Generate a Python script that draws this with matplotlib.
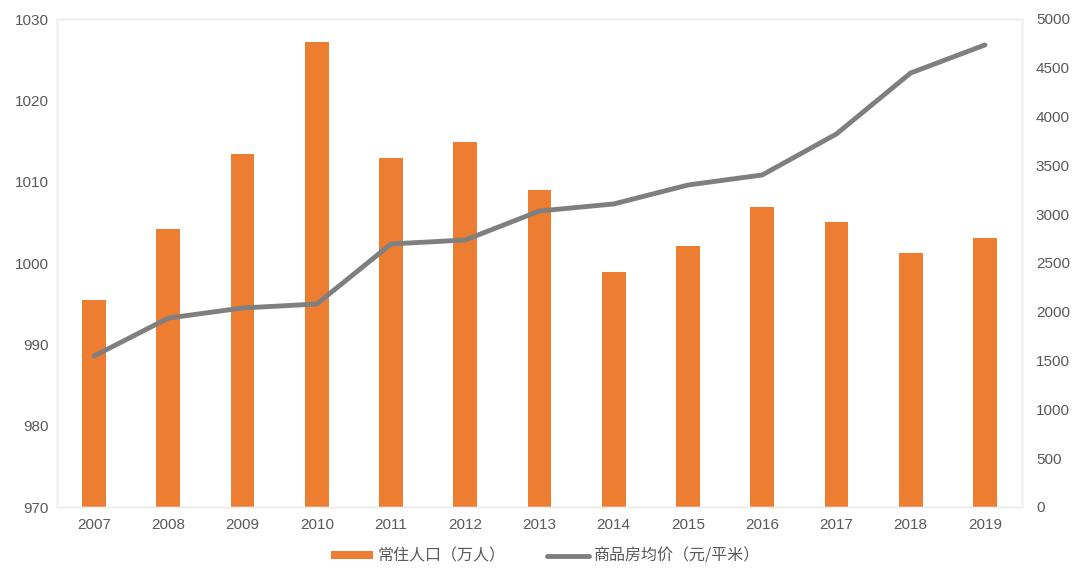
import numpy as np
import matplotlib.pyplot as plt

plt.rcParams['font.family'] = ['Liberation Sans', 'Noto Sans CJK SC', 'DejaVu Sans']

years = ['2007', '2008', '2009', '2010', '2011', '2012', '2013',
         '2014', '2015', '2016', '2017', '2018', '2019']
population = [995.5, 1004.2, 1013.4, 1027.2, 1012.9, 1014.9, 1009.0,
              998.9, 1002.1, 1006.9, 1005.0, 1001.2, 1003.1]
house_price = [1547, 1936, 2039, 2080, 2695, 2736, 3033,
               3105, 3299, 3402, 3822, 4447, 4734]

orange = '#ED7D31'
gray = '#7F7F7F'
tick_color = '#595959'

fig = plt.figure(figsize=(10.8, 5.81), dpi=100)
ax = fig.add_axes([57 / 1080, 1 - 507 / 581, (1022 - 57) / 1080, (507 - 19) / 581])
ax2 = ax.twinx()

x = np.arange(len(years))
bars = ax.bar(x, population, width=0.32, color=orange, label='常住人口（万人）', zorder=2)
line, = ax2.plot(x, house_price, color=gray, linewidth=3.5, label='商品房均价（元/平米）',
                 solid_capstyle='round', zorder=3)

ax.set_xlim(-0.5, len(years) - 0.5)
ax.set_ylim(970, 1030)
ax.set_yticks(np.arange(970, 1031, 10))
ax2.set_ylim(0, 5000)
ax2.set_yticks(np.arange(0, 5001, 500))
ax.set_xticks(x)
ax.set_xticklabels(years)

for a in (ax, ax2):
    a.tick_params(length=0, labelsize=11, colors=tick_color)
    for s in a.spines.values():
        s.set_color('#EEEEEE')
        s.set_linewidth(1)
ax.spines['bottom'].set_color('#D9D9D9')
ax.tick_params(axis='x', pad=8)
ax.tick_params(axis='y', pad=6)
ax2.tick_params(axis='y', pad=10)
ax.set_zorder(ax2.get_zorder() - 1)
ax2.patch.set_visible(False)

fig.legend([bars, line], ['常住人口（万人）', '商品房均价（元/平米）'],
           loc='center', bbox_to_anchor=(0.505, 1 - 556 / 581), ncol=2, frameon=False,
           labelcolor=tick_color, handlelength=2.6, handleheight=0.4,
           columnspacing=2.6, handletextpad=0.3,
           prop={'family': ['Noto Sans CJK SC', 'DejaVu Sans'], 'size': 11.5})

fig.savefig('out.png', dpi=100)
